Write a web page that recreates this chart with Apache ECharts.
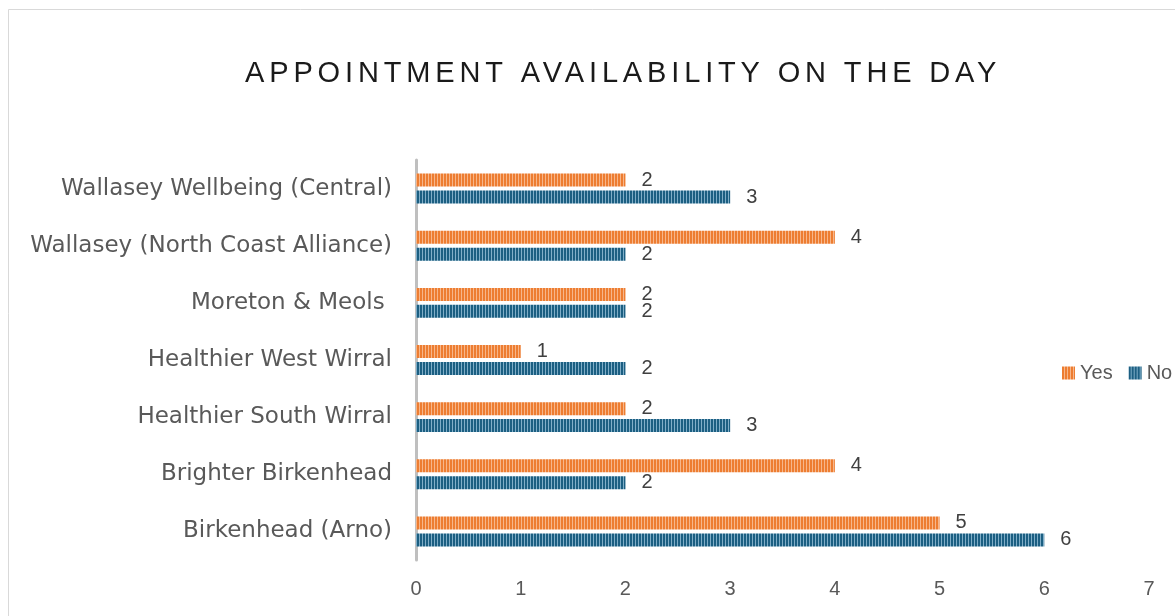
<!DOCTYPE html>
<html>
<head>
<meta charset="utf-8">
<script src="https://cdn.jsdelivr.net/npm/echarts@6/dist/echarts.min.js"></script>
<style>
  html, body { margin: 0; padding: 0; background: #fff; }
  #main { width: 1175px; height: 616px; }
</style>
</head>
<body>
<div id="main"></div>
<script>
var titleText = 'APPOINTMENT AVAILABILITY ON THE DAY';
var categories = ['Wallasey Wellbeing (Central)', 'Wallasey (North Coast Alliance)', 'Moreton & Meols ', 'Healthier West Wirral', 'Healthier South Wirral', 'Brighter Birkenhead', 'Birkenhead (Arno)'];
var yesValues = [2, 4, 2, 1, 2, 4, 5];
var noValues = [3, 2, 2, 2, 3, 2, 6];
var seriesNames = ['Yes', 'No'];

// letter spaced title (excel style)
var origFillText = CanvasRenderingContext2D.prototype.fillText;
CanvasRenderingContext2D.prototype.fillText = function (t, x, y, w) {
  if (t === titleText && 'letterSpacing' in this) {
    var old = this.letterSpacing;
    this.letterSpacing = '4.85px';
    var r = origFillText.apply(this, arguments);
    this.letterSpacing = old;
    return r;
  }
  return origFillText.apply(this, arguments);
};

// vertical stripe pattern
function stripes(dark, light) {
  var c = document.createElement('canvas');
  c.width = 3;
  c.height = 4;
  var ctx = c.getContext('2d');
  ctx.fillStyle = dark;
  ctx.fillRect(0, 0, 3, 4);
  ctx.fillStyle = light;
  ctx.fillRect(2, 0, 1, 4);
  return { image: c, repeat: 'repeat' };
}
var orange = stripes('#ED7D31', '#F7B68A');
var blue = stripes('#1C5F82', '#80AEC8');

var chart = echarts.init(document.getElementById('main'));
var labelStyle = {
  show: true,
  position: 'right',
  distance: 16,
  fontSize: 20,
  color: '#404040',
  fontFamily: 'Liberation Sans'
};
var option = {
  backgroundColor: '#ffffff',
  animation: false,
  title: {
    text: titleText,
    left: 245,
    top: 59,
    padding: 0,
    textStyle: {
      fontSize: 29,
      fontWeight: 'normal',
      color: '#1a1a1a',
      fontFamily: 'Liberation Sans'
    }
  },
  legend: {
    orient: 'horizontal',
    left: 1057,
    top: 358,
    width: 400,
    itemWidth: 13,
    itemHeight: 13,
    itemGap: 16,
    icon: 'rect',
    textStyle: { fontSize: 20, color: '#595959', fontFamily: 'Liberation Sans' },
    data: seriesNames
  },
  grid: {
    left: 416,
    right: 26,
    top: 160,
    bottom: 56,
    containLabel: false
  },
  xAxis: {
    type: 'value',
    min: 0,
    max: 7,
    interval: 1,
    axisLine: { show: false },
    axisTick: { show: false },
    splitLine: { show: false },
    axisLabel: { fontSize: 20, color: '#595959', margin: 19, fontFamily: 'Liberation Sans' }
  },
  yAxis: {
    type: 'category',
    inverse: true,
    data: categories,
    axisLine: { show: true, lineStyle: { color: '#BFBFBF', width: 3 } },
    axisTick: { show: false },
    axisLabel: { fontSize: 23, color: '#595959', margin: 24, padding: [5, 0, 0, 0], fontFamily: 'DejaVu Sans' }
  },
  graphic: [{
    type: 'rect',
    silent: true,
    shape: { x: 8.5, y: 9.5, width: 1400, height: 800 },
    style: { fill: 'none', stroke: '#D9D9D9', lineWidth: 1 }
  }],
  series: [{
    name: seriesNames[0],
    type: 'bar',
    data: yesValues,
    barWidth: 13,
    barGap: '30%',
    itemStyle: { color: orange },
    label: labelStyle
  }, {
    name: seriesNames[1],
    type: 'bar',
    data: noValues,
    barWidth: 13,
    barGap: '30%',
    itemStyle: { color: blue },
    label: labelStyle
  }]
};
chart.setOption(option);
</script>
</body>
</html>
